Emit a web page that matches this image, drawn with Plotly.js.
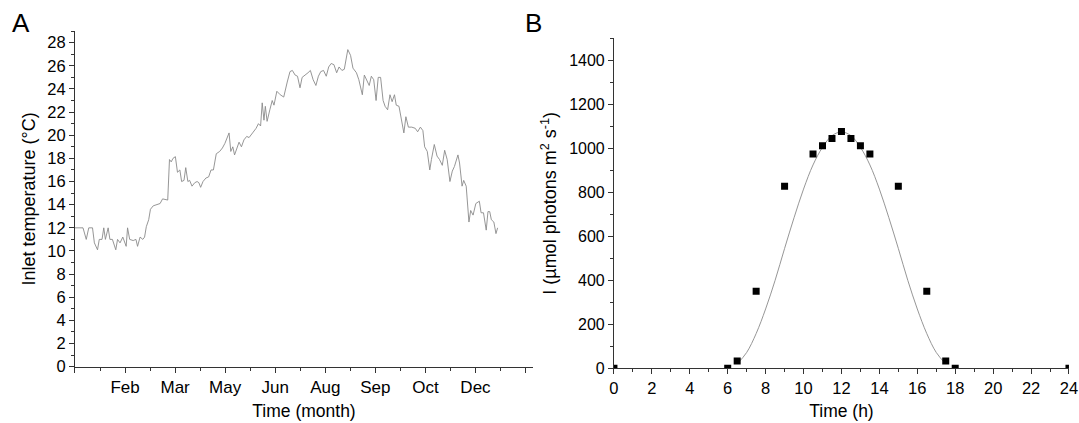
<!DOCTYPE html>
<html>
<head>
<meta charset="utf-8">
<script src="https://cdn.plot.ly/plotly-3.0.1.min.js"></script>
<style>html,body{margin:0;padding:0;background:#fff;}#chart{width:1079px;height:423px;}</style>
</head>
<body>
<div id="chart"></div>
<script>
// Panel A: inlet temperature over the year (day index)
const dayA = [0,6.4,9,11,14,15.5,18,19.4,21.6,23,24.3,26.5,27.9,29.9,32.6,34,36,38.2,40.9,42,43.7,46.5,48.7,50,52,54.2,55.6,57,58.9,60.3,62.5,65.3,68,70,72.7,74.1,75.5,76.9,78.3,80.2,81.9,83.8,85.2,87.1,88.5,90.2,91.6,93.5,95.7,97.6,99,100.4,102.3,104.6,106.8,108.7,110.6,112.9,115.6,117.8,119.8,121.2,123.1,124.5,126.1,127.5,129.4,131.1,133,135,137.2,139.1,141.9,144.7,146.6,148.3,149.6,151,152.1,153.5,155.7,157.6,159,161.3,164,166.8,169.6,171.8,173.7,175.9,177.8,179.8,181.5,184.2,186.2,188.1,190.3,192.5,194.5,196.4,198.6,200.8,202.7,204.7,206.9,209.1,211,213.3,215.2,218,220.2,222.1,224.9,226.8,229.6,231.2,233.2,235.1,236.8,238.7,240.6,242.3,244.2,246.2,247.8,249.8,251.7,253.4,255.3,256.7,258.9,260.8,262.8,264.4,266.4,269.1,271.9,273.8,276,278,279.4,281.5,283.5,284.8,287.1,289.3,291.3,293.5,295.4,297.4,299.6,301.5,303.2,306,307.3,309.3,310.6,312.6,314.8,316.2,318.1,320.3,323.1,324.5,326.4,328.6,330,331.4,332.7,334.7,336.4,337.7];
const tempA = [12,12,11,12,12,10.7,10.1,11,11,12,11,12,11,11,10.1,11,10.7,11.2,10.4,12,11,10.9,11,10.4,11.2,11,11.2,12.1,12.7,13.6,13.9,14,14.1,14.5,14.4,14.4,17.9,17.7,18,18.15,16.8,17,16,16.1,17.2,16,16.1,15.6,15.9,16,15.9,15.5,16,16.3,16.4,17,17,18.4,18.6,18.9,19.3,19.7,20.2,18.6,19,18.3,19,19.4,19,19.6,19.9,19.8,20.2,20.6,21,20.8,22.8,21.3,22.5,21.2,22.2,23,22.6,23.8,23.5,23.3,24.6,25.5,25.6,25.2,25.1,24.1,25,25.2,25.4,25.6,24.8,24.3,25.1,25.5,25.6,25.1,25.9,26.2,26.1,25.4,25.9,25.6,25.7,27.4,26.9,25.8,25.4,24.8,23.5,25.2,24.8,24.3,25.1,24.8,23,25,25,23,22.5,22.2,23.5,22.9,23.5,22.6,22.5,21.5,20.2,21.6,20.7,20.7,20.6,20.3,20.7,20.4,19,18.6,17,17.9,19.2,18.2,17.9,17.4,18.7,17.9,16,16.9,17.3,18.3,17.6,15.6,16.1,15.6,12.5,13.5,13.1,14.1,14.3,13.3,13.3,11.8,13.4,13.4,12.7,12.5,11.5,12];
const monthTickVals = [0,40,80,120,160,200,240,280,320,360];
const monthTickText = [' ', 'Feb', 'Mar', 'May', 'Jun', 'Aug', 'Sep', 'Oct', 'Dec', ' '];

// Panel B: irradiance over the day
const hourB = [0,6,6.5,7.5,9,10.5,11,11.5,12,12.5,13,13.5,15,16.5,17.5,18,24];
const irrB = [0,0,33,350,828,975,1012,1045,1077,1045,1012,975,828,350,33,0,0];
// fitted curve, values
const hourFit = [6.5,7,7.5,8,8.5,9,9.5,10,10.5,11,11.5,12,12.5,13,13.5,14,14.5,15,15.5,16,16.5,17,17.5];
const irrFit = [20,72,158,270,400,545,685,815,925,1005,1058,1075,1058,1005,925,815,685,545,400,270,158,72,20];

const FAM = 'Liberation Sans, Arial, sans-serif';
const font = {family: FAM, color: '#000'};
const axisCommon = {
  showgrid: false, zeroline: false, showline: true, linecolor: '#333', linewidth: 1,
  ticks: 'outside', ticklen: 5, tickwidth: 1, tickcolor: '#333',
  tickfont: {family: FAM, size: 16.5, color: '#000'},
  fixedrange: true
};

const traces = [
  {x: dayA, y: tempA, type: 'scatter', mode: 'lines', line: {color: '#8a8a8a', width: 0.9},
   xaxis: 'x', yaxis: 'y', hoverinfo: 'skip'},
  {x: hourFit, y: irrFit, type: 'scatter', mode: 'lines', line: {color: '#8a8a8a', width: 0.9, shape: 'spline'},
   xaxis: 'x2', yaxis: 'y2', hoverinfo: 'skip'},
  {x: hourB, y: irrB, type: 'scatter', mode: 'markers', marker: {symbol: 'square', size: 7, color: '#000'},
   xaxis: 'x2', yaxis: 'y2', hoverinfo: 'skip'}
];

const layout = {
  width: 1079, height: 423,
  margin: {l: 0, r: 0, t: 0, b: 0},
  paper_bgcolor: '#fff', plot_bgcolor: '#fff',
  showlegend: false,
  font: font,
  xaxis: Object.assign({}, axisCommon, {
    domain: [0.0695, 0.494], range: [0, 366],
    tickmode: 'array', tickvals: monthTickVals, ticktext: monthTickText,
    tickfont: {family: FAM, size: 17, color: '#000'},
    minor: {tickmode: 'array', tickvals: [20,60,100,140,180,220,260,300,340], ticklen: 3, tickcolor: '#333', ticks: 'outside'},
    title: {text: 'Time (month)', font: {family: FAM, size: 17.5, color: '#000'}, standoff: 8}
  }),
  yaxis: Object.assign({}, axisCommon, {
    domain: [0.1331, 0.9265], range: [0, 29],
    tickmode: 'linear', tick0: 0, dtick: 2,
    minor: {tickmode: 'linear', tick0: 0, dtick: 1, ticklen: 3, tickcolor: '#333', ticks: 'outside'},
    title: {text: 'Inlet temperature (°C)', font: {family: FAM, size: 18, color: '#000'}, standoff: 7}
  }),
  xaxis2: Object.assign({}, axisCommon, {
    domain: [0.569, 0.9907], range: [0, 24], anchor: 'y2',
    tickmode: 'linear', tick0: 0, dtick: 2,
    tickfont: {family: FAM, size: 16.5, color: '#000'},
    minor: {tickmode: 'linear', tick0: 0, dtick: 1, ticklen: 3, tickcolor: '#333', ticks: 'outside'},
    title: {text: 'Time (h)', font: {family: FAM, size: 17.5, color: '#000'}, standoff: 8}
  }),
  yaxis2: Object.assign({}, axisCommon, {
    domain: [0.1293, 0.909], range: [0, 1500], anchor: 'x2',
    tickmode: 'linear', tick0: 0, dtick: 200,
    tickfont: {family: FAM, size: 16, color: '#000'},
    minor: {tickmode: 'linear', tick0: 0, dtick: 100, ticklen: 3, tickcolor: '#333', ticks: 'outside'},
    title: {text: 'I (µmol photons m<sup>2</sup> s<sup>-1</sup>)', font: {family: FAM, size: 18, color: '#000'}, standoff: 7}
  }),
  annotations: [
    {text: 'A', xref: 'paper', yref: 'paper', x: 0.009, y: 0.985, xanchor: 'left', yanchor: 'top', showarrow: false,
     font: {family: FAM, size: 26, color: '#000'}},
    {text: 'B', xref: 'paper', yref: 'paper', x: 0.485, y: 0.985, xanchor: 'left', yanchor: 'top', showarrow: false,
     font: {family: FAM, size: 26, color: '#000'}}
  ]
};

Plotly.newPlot('chart', traces, layout, {displayModeBar: false, staticPlot: true});
</script>
</body>
</html>
